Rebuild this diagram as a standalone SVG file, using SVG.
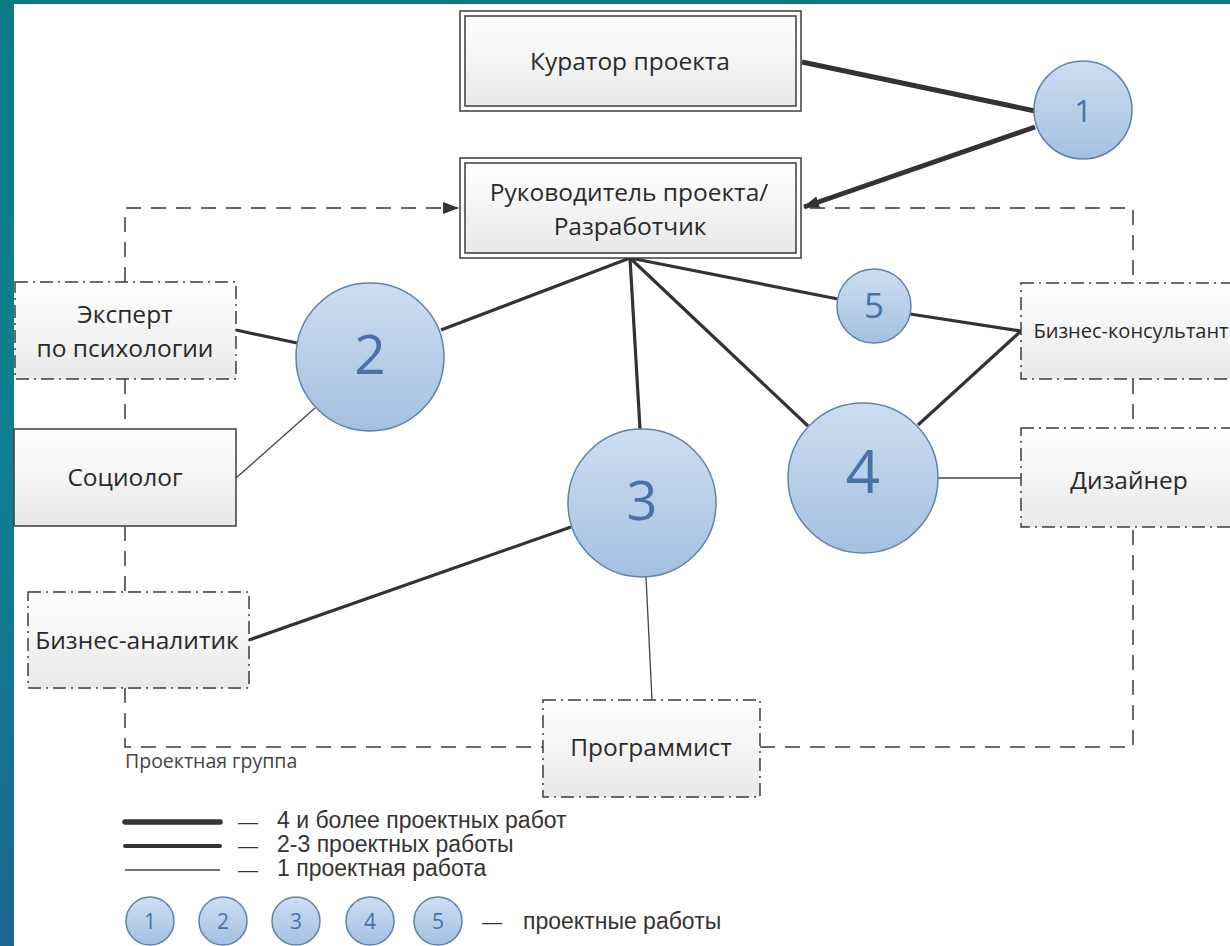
<svg xmlns="http://www.w3.org/2000/svg" width="1230" height="946" viewBox="0 0 1230 946">
  <defs>
    <linearGradient id="bg" x1="0" y1="0" x2="0" y2="1">
      <stop offset="0" stop-color="#0c7a86"/>
      <stop offset="0.5" stop-color="#0f8090"/>
      <stop offset="1" stop-color="#1b6790"/>
    </linearGradient>
    <linearGradient id="boxfill" x1="0" y1="0" x2="0" y2="1">
      <stop offset="0" stop-color="#ffffff"/>
      <stop offset="1" stop-color="#e9e9e9"/>
    </linearGradient>
    <linearGradient id="circfill" x1="0" y1="0" x2="0" y2="1">
      <stop offset="0" stop-color="#cddef1"/>
      <stop offset="1" stop-color="#a4c0e0"/>
    </linearGradient>
    <marker id="arrow" markerUnits="userSpaceOnUse" markerWidth="16" markerHeight="14" viewBox="0 0 16 14" refX="15" refY="7" orient="auto">
      <path d="M0,1 L16,7 L0,13 Z" fill="#333"/>
    </marker>
    <style>
      .box { fill: url(#boxfill); stroke: #3c3c3c; stroke-width: 1.5; }
      .dbox { fill: url(#boxfill); stroke: #3c3c3c; stroke-width: 1.5; stroke-dasharray: 13 5 2 5; }
      .lbl { font-family: "Open Sans", "Noto Sans", sans-serif; font-size: 24.5px; fill: #2a2a2a; text-anchor: middle; }
      .circ { fill: url(#circfill); stroke: #5f82ad; stroke-width: 1.5; }
      .num { font-family: "Open Sans", "Noto Sans", sans-serif; fill: #4a72a5; text-anchor: middle; }
      .thick { stroke: #333; stroke-width: 5; fill: none; }
      .med { stroke: #333; stroke-width: 3.2; fill: none; }
      .thin { stroke: #444; stroke-width: 1.3; fill: none; }
      .dash { stroke: #3c3c3c; stroke-width: 1.5; fill: none; stroke-dasharray: 15 10; }
      .leg { font-family: "Liberation Sans", Arial, sans-serif; font-size: 23px; fill: #333; }
    </style>
  </defs>

  <rect x="0" y="0" width="1230" height="946" fill="url(#bg)"/>
  <rect x="14" y="4" width="1216" height="942" fill="#ffffff"/>

  <g id="connectors">
    <path class="dash" d="M125,282 V208 H458" marker-end="url(#arrow)"/>
    <path class="dash" d="M810,208 H1133 V283"/>
    <path class="dash" d="M125,379 V429"/>
    <path class="dash" d="M125,526 V592"/>
    <path class="dash" d="M125,688 V747 H543"/>
    <path class="dash" d="M760,747 H1133 V527"/>
    <path class="dash" d="M1133,379 V428"/>
    <line class="thick" x1="802" y1="62" x2="1035" y2="111"/>
    <line class="thick" x1="1035" y1="127" x2="804" y2="207" marker-end="url(#arrow)"/>
    <line class="med" x1="630" y1="258" x2="441" y2="330"/>
    <line class="med" x1="630" y1="258" x2="640" y2="429"/>
    <line class="med" x1="630" y1="258" x2="808" y2="426"/>
    <line class="med" x1="630" y1="258" x2="838" y2="299"/>
    <line class="med" x1="910" y1="314" x2="1021" y2="331"/>
    <line class="med" x1="918" y1="425" x2="1021" y2="331"/>
    <line class="med" x1="236" y1="330" x2="297" y2="343"/>
    <line class="med" x1="249" y1="640" x2="571" y2="527"/>
    <line class="thin" x1="236" y1="478" x2="315" y2="408"/>
    <line class="thin" x1="646" y1="577" x2="652" y2="700"/>
    <line class="thin" x1="938" y1="478" x2="1021" y2="478"/>
  </g>

  <g id="kurator">
    <rect class="box" x="460" y="11" width="341" height="100" style="fill:#fff"/>
    <rect class="box" x="465" y="16" width="331" height="90"/>
    <text class="lbl" x="630" y="70">Куратор проекта</text>
  </g>

  <g id="rukovoditel">
    <rect class="box" x="460" y="158" width="341" height="100" style="fill:#fff"/>
    <rect class="box" x="465" y="163" width="331" height="90"/>
    <text class="lbl" x="629" y="201">Руководитель проекта/</text>
    <text class="lbl" x="630" y="235">Разработчик</text>
  </g>

  <g id="expert">
    <rect class="dbox" x="15" y="282" width="221" height="97"/>
    <text class="lbl" x="125" y="323">Эксперт</text>
    <text class="lbl" x="125" y="357">по психологии</text>
  </g>

  <g id="sociolog">
    <rect class="box" x="14" y="429" width="222" height="97"/>
    <text class="lbl" x="125" y="486">Социолог</text>
  </g>

  <g id="analitik">
    <rect class="dbox" x="28" y="592" width="221" height="96"/>
    <text class="lbl" x="137" y="649">Бизнес-аналитик</text>
  </g>

  <g id="programmist">
    <rect class="dbox" x="543" y="700" width="217" height="97"/>
    <text class="lbl" x="651" y="756">Программист</text>
  </g>

  <g id="konsultant">
    <rect class="dbox" x="1021" y="283" width="230" height="96"/>
    <text class="lbl" x="1131" y="338" style="font-size:20px">Бизнес-консультант</text>
  </g>

  <g id="dizajner">
    <rect class="dbox" x="1021" y="428" width="230" height="99"/>
    <text class="lbl" x="1129" y="489">Дизайнер</text>
  </g>

  <g id="circle1">
    <circle class="circ" cx="1083" cy="110" r="49"/>
    <text class="num" x="1083" y="122" font-size="31">1</text>
  </g>
  <g id="circle2">
    <circle class="circ" cx="370" cy="357" r="74"/>
    <text class="num" x="370" y="374" font-size="55">2</text>
  </g>
  <g id="circle3">
    <circle class="circ" cx="642" cy="503" r="74"/>
    <text class="num" x="642" y="520" font-size="54">3</text>
  </g>
  <g id="circle4">
    <circle class="circ" cx="863" cy="478" r="75"/>
    <text class="num" x="863" y="493" font-size="60">4</text>
  </g>
  <g id="circle5">
    <circle class="circ" cx="874" cy="306" r="37"/>
    <text class="num" x="874" y="318" font-size="35">5</text>
  </g>

  <g id="group-label">
    <text x="125" y="768" style="font-family:'Open Sans','Noto Sans',sans-serif;font-size:19.5px;fill:#444">Проектная группа</text>
  </g>

  <g id="legend">
    <line x1="125" y1="822" x2="220" y2="822" stroke="#333" stroke-width="5.5" stroke-linecap="round"/>
    <line x1="125" y1="846" x2="220" y2="846" stroke="#333" stroke-width="4" stroke-linecap="round"/>
    <line x1="125" y1="870" x2="220" y2="870" stroke="#444" stroke-width="1.4"/>
    <text class="leg" x="238" y="829" style="font-size:20px">—</text>
    <text class="leg" x="277" y="828">4 и более проектных работ</text>
    <text class="leg" x="238" y="853" style="font-size:20px">—</text>
    <text class="leg" x="277" y="852">2-3 проектных работы</text>
    <text class="leg" x="238" y="877" style="font-size:20px">—</text>
    <text class="leg" x="277" y="876">1 проектная работа</text>
    <circle class="circ" cx="150" cy="921" r="24"/>
    <text class="num" x="150" y="929" font-size="21">1</text>
    <circle class="circ" cx="223" cy="921" r="24"/>
    <text class="num" x="223" y="929" font-size="21">2</text>
    <circle class="circ" cx="296" cy="921" r="24"/>
    <text class="num" x="296" y="929" font-size="21">3</text>
    <circle class="circ" cx="370" cy="921" r="24"/>
    <text class="num" x="370" y="929" font-size="21">4</text>
    <circle class="circ" cx="438" cy="921" r="24"/>
    <text class="num" x="438" y="929" font-size="21">5</text>
    <text class="leg" x="482" y="929" style="font-size:20px">—</text>
    <text class="leg" x="523" y="929">проектные работы</text>
  </g>
</svg>
